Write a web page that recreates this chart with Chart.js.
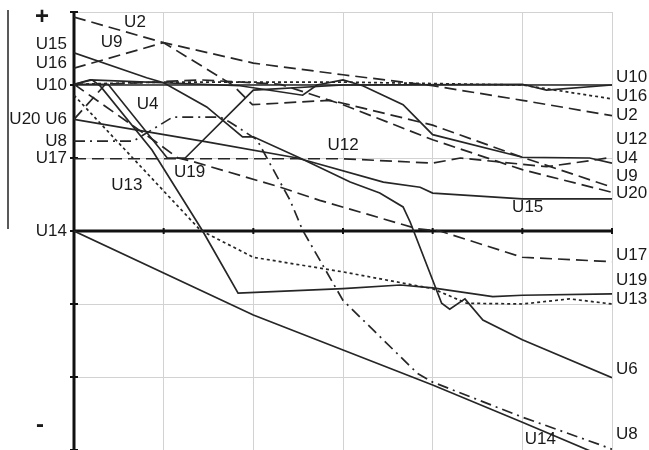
<!DOCTYPE html>
<html><head><meta charset="utf-8">
<script src="https://cdn.jsdelivr.net/npm/chart.js@4.4.1/dist/chart.umd.min.js"></script>
<style>html,body{margin:0;padding:0;background:#fff;}canvas{display:block;}</style>
</head><body>
<canvas id="c" width="649" height="450"></canvas>
<script>
// x positions: 0..6 (grid columns), y values: -3..3 (0 = U14 axis)
const xTicks = [0, 1, 2, 3, 4, 5, 6];
const yTicks = [-3, -2, -1, 0, 1, 2, 3];

const U2  = [[0,2.93],[1,2.58],[2,2.30],[3,2.14],[4,1.99],[5,1.79],[6,1.58]];
const U9  = [[0,2.23],[1,2.58],[1.77,2.0],[1.99,1.73],[2.85,1.79],[3,1.75],[4,1.45],[5,1.01],[6,0.6]];
const U20 = [[0,1.53],[0.35,2.01],[1.41,2.07],[2.3,2.01],[3,1.73],[4,1.25],[5,0.84],[6,0.53]];
const U17b= [[0,2.01],[0.88,1.25],[1.16,1.0],[1.33,0.95],[2.3,0.6],[2.74,0.42],[3.83,0.03],[4.08,0.0],[5,-0.36],[6,-0.42]];
const U17 = [[0,0.99],[3,0.99],[4,0.93],[4.31,1.0],[5.27,0.88],[5.79,0.97],[6,1.01]];
const U16 = [[0,2.01],[1,2.04],[3,2.04],[5,2.0],[6,1.81]];
const U10 = [[0,2.0],[6,2.0]];
const U19 = [[0,2.01],[0.2,2.07],[0.29,1.99],[0.87,1.11],[1.43,0.01],[1.83,-0.85],[3,-0.79],[3.64,-0.74],[4,-0.78],[4.67,-0.9],[5,-0.88],[6,-0.86]];
const U4  = [[0,2.01],[0.38,2.01],[1.04,1.0],[1.24,1.0],[2,1.93],[3,2.0],[5,2.01],[5.27,1.93],[6,2.0]];
const U12 = [[0,2.01],[0.18,2.07],[1.85,1.99],[2.55,1.86],[2.71,2.0],[3,2.07],[3.22,1.99],[3.67,1.73],[4,1.32],[5,1.01],[5.75,1.0],[6,0.93]];
const U15 = [[0,2.44],[0.81,2.1],[1,2.03],[1.48,1.7],[1.88,1.29],[2,1.29],[2.52,1.0],[3.08,0.67],[3.41,0.52],[3.67,0.33],[3.75,0.12],[4.1,-0.99],[4.19,-1.07],[4.36,-0.93],[4.56,-1.22],[5,-1.49],[6,-2.01]];
const U6  = [[0,1.53],[1.48,1.22],[2.49,1.0],[3.45,0.67],[3.86,0.6],[4,0.52],[5,0.44],[6,0.44]];
const U8  = [[0,1.23],[0.66,1.23],[1.1,1.56],[1.63,1.56],[1.74,1.49],[2.04,1.25],[2.41,0.42],[2.55,0.01],[3,-0.95],[3.83,-1.95],[4,-2.07],[5,-2.55],[5.87,-2.93],[6,-2.99]];
const U13 = [[0,1.86],[1.41,0.01],[2,-0.36],[3,-0.56],[4,-0.79],[4.38,-0.99],[5,-1.0],[5.53,-0.93],[6,-1.0]];
const U14 = [[0,0],[2,-1.15],[3,-1.63],[4,-2.11],[5,-2.62],[6,-3.14]];

const leftLabels = ['+','U15','U16','U10','U20 U6','U8','U17','U14','-'];
const leftValues = [2.92,2.56,2.3,2.0,1.53,1.23,0.99,0.0,-2.66];
const rightLabels = ['U10','U16','U2','U12','U4','U9','U20','U17','U19','U13','U6','U8'];
const rightValues = [2.1,1.85,1.58,1.25,0.99,0.75,0.52,-0.33,-0.67,-0.93,-1.89,-2.78];
const innerLabels = ['U2','U9','U4','U19','U13','U12','U15','U14'];
const innerX = [0.68,0.42,0.82,1.29,0.59,3.0,5.06,5.2];
const innerY = [2.86,2.58,1.74,0.81,0.63,1.18,0.33,-2.86];

const DASH = [12,6], DOT = [3,3], DASHDOT = [11,5,2,5];
const INK = '#262626';
const FONT = '17px "Liberation Sans", Arial, sans-serif';
function ds(name, pts, dash){
  return {label:name, data:pts.map(p=>({x:p[0],y:p[1]})), borderColor:INK, borderWidth:1.7,
    borderDash:dash||[], pointRadius:0, fill:false, tension:0};
}

const extras = {
  id:'extras',
  beforeDatasetsDraw(chart){
    const {ctx, scales:{x,y}} = chart;
    ctx.save();
    ctx.strokeStyle='#111'; ctx.lineWidth=3;
    ctx.beginPath(); ctx.moveTo(x.getPixelForValue(0), y.getPixelForValue(3)); ctx.lineTo(x.getPixelForValue(0), y.getPixelForValue(-3)); ctx.stroke();
    ctx.beginPath(); ctx.moveTo(x.getPixelForValue(0), y.getPixelForValue(0)); ctx.lineTo(x.getPixelForValue(6), y.getPixelForValue(0)); ctx.stroke();
    ctx.lineWidth=2;
    yTicks.forEach(v=>{const py=y.getPixelForValue(v), px=x.getPixelForValue(0);
      ctx.beginPath(); ctx.moveTo(px-4,py); ctx.lineTo(px+4,py); ctx.stroke();});
    xTicks.forEach(v=>{const px=x.getPixelForValue(v), py=y.getPixelForValue(0);
      ctx.beginPath(); ctx.moveTo(px,py-3); ctx.lineTo(px,py+3); ctx.stroke();});
    ctx.lineWidth=1.5; ctx.strokeStyle='#222';
    ctx.beginPath(); ctx.moveTo(8,10); ctx.lineTo(8,229); ctx.stroke();
    ctx.restore();
  },
  afterDraw(chart){
    const {ctx, scales:{x,y}} = chart;
    ctx.save();
    ctx.fillStyle='#1a1a1a';
    ctx.textBaseline='middle';
    ctx.textAlign='right';
    leftLabels.forEach((t,i)=>{
      const sign = (t==='+'||t==='-');
      ctx.font = sign ? 'bold 24px "Liberation Sans", Arial, sans-serif' : FONT;
      const px = t==='+' ? 49 : (t==='-' ? 44 : x.getPixelForValue(0)-7);
      ctx.fillText(t, px, y.getPixelForValue(leftValues[i]));
    });
    ctx.font=FONT;
    ctx.textAlign='left';
    rightLabels.forEach((t,i)=>ctx.fillText(t, x.getPixelForValue(6)+4, y.getPixelForValue(rightValues[i])));
    ctx.textAlign='center';
    innerLabels.forEach((t,i)=>ctx.fillText(t, x.getPixelForValue(innerX[i]), y.getPixelForValue(innerY[i])));
    ctx.restore();
  }
};

new Chart(document.getElementById('c'), {
  type:'line',
  data:{datasets:[
    ds('U2',U2,DASH), ds('U9',U9,DASH), ds('U20',U20,DASH), ds('U17b',U17b,DASH), ds('U17',U17,DASH),
    ds('U16',U16,DOT), ds('U10',U10), ds('U19',U19), ds('U4',U4), ds('U12',U12),
    ds('U15',U15), ds('U6',U6), ds('U8',U8,DASHDOT), ds('U13',U13,DOT), ds('U14',U14)
  ]},
  options:{
    responsive:false, animation:false, devicePixelRatio:1,
    layout:{padding:{left:74,right:37,top:12,bottom:0}},
    plugins:{legend:{display:false}, tooltip:{enabled:false}},
    scales:{
      x:{type:'linear', min:0, max:6, ticks:{display:false, stepSize:1}, border:{display:false},
         grid:{color:'#d2d2d2', lineWidth:1, drawTicks:false}},
      y:{type:'linear', min:-3, max:3, ticks:{display:false, stepSize:1}, border:{display:false},
         grid:{color:'#d2d2d2', lineWidth:1, drawTicks:false}}
    }
  },
  plugins:[extras]
});
</script>
</body></html>
